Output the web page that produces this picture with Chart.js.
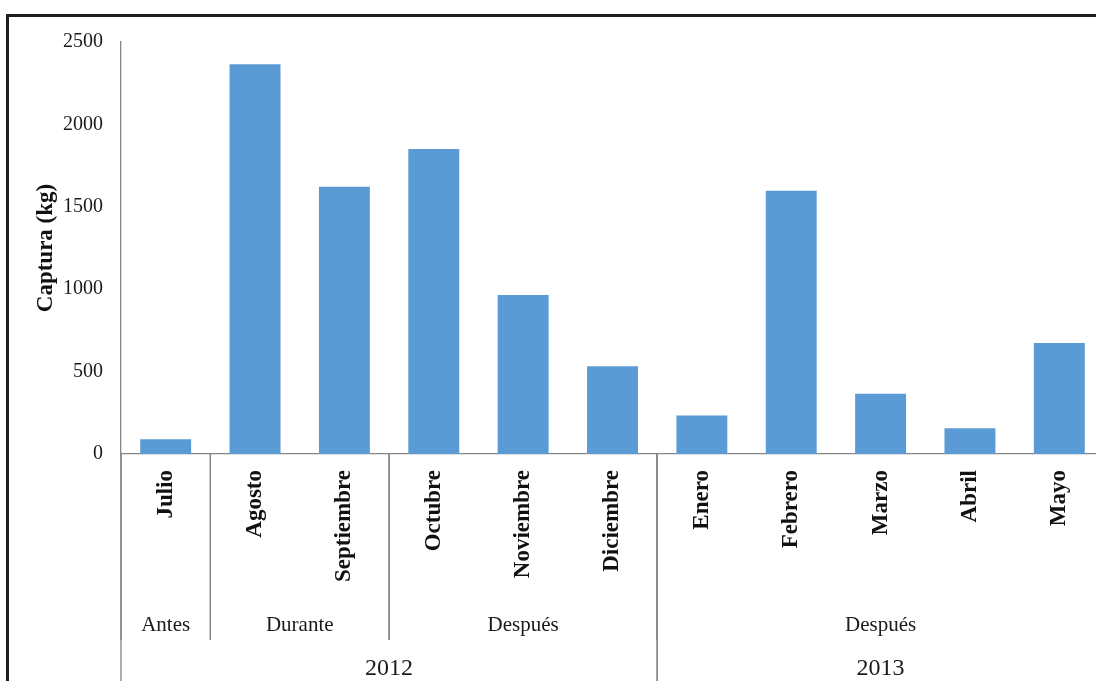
<!DOCTYPE html>
<html lang="es">
<head>
<meta charset="utf-8">
<title>Captura mensual (kg)</title>
<script src="https://cdn.jsdelivr.net/npm/chart.js@4/dist/chart.umd.min.js"></script>
<style>
  html, body { margin: 0; padding: 0; background: #fff; overflow: hidden; width: 1096px; height: 681px; }
  #wrap { position: relative; width: 1096px; height: 681px; overflow: hidden; }
  #frame { position: absolute; left: 6px; top: 14px; width: 1200px; height: 800px;
           border-top: 3px solid #1e1e1e; border-left: 3px solid #1e1e1e; box-sizing: border-box; }
  canvas { position: absolute; left: 0; top: 0; }
</style>
</head>
<body>
<div id="wrap">
  <div id="frame"></div>
  <canvas id="chart" width="1104" height="681"></canvas>
</div>
<script>
// Meses y captura (kg)
const meses = ['Julio', 'Agosto', 'Septiembre', 'Octubre', 'Noviembre', 'Diciembre',
               'Enero', 'Febrero', 'Marzo', 'Abril', 'Mayo'];
const captura = [90, 2365, 1622, 1851, 965, 532, 234, 1598, 365, 157, 674];

// Periodos respecto al evento y número de meses de cada uno
const periodos = ['Antes', 'Durante', 'Después', 'Después'];
const mesesPorPeriodo = [1, 2, 3, 5];

// Años y número de meses de cada uno
const anios = ['2012', '2013'];
const mesesPorAnio = [6, 5];

// Marcas del eje Y
const ejeYMin = 0, ejeYMax = 2500, ejeYPaso = 500;

const serif = "'Liberation Serif', 'Times New Roman', serif";
const gris = '#868686';

// Filas de agrupación bajo el eje X: periodos y años, con sus separadores
const filasAgrupadas = {
  id: 'filasAgrupadas',
  afterDraw(chart, args, opts) {
    const { ctx, scales: { x } } = chart;
    const borde = i => x.getPixelForValue(i - 0.5);
    const y0 = x.top;

    ctx.save();
    ctx.strokeStyle = gris;
    ctx.lineWidth = 1.3;
    ctx.fillStyle = '#1a1a1a';
    ctx.textAlign = 'center';
    ctx.textBaseline = 'middle';

    // Separadores de periodos
    let i = 0;
    ctx.font = `21px ${serif}`;
    periodos.forEach((p, k) => {
      const a = i, b = i + mesesPorPeriodo[k];
      ctx.beginPath();
      ctx.moveTo(borde(a), y0); ctx.lineTo(borde(a), opts.finPeriodo);
      ctx.moveTo(borde(b), y0); ctx.lineTo(borde(b), opts.finPeriodo);
      ctx.stroke();
      ctx.fillText(p, (borde(a) + borde(b)) / 2, opts.yPeriodo);
      i = b;
    });

    // Separadores de años
    i = 0;
    ctx.font = `24px ${serif}`;
    anios.forEach((an, k) => {
      const a = i, b = i + mesesPorAnio[k];
      ctx.beginPath();
      ctx.moveTo(borde(a), y0); ctx.lineTo(borde(a), chart.height);
      ctx.moveTo(borde(b), y0); ctx.lineTo(borde(b), chart.height);
      ctx.stroke();
      ctx.fillText(an, (borde(a) + borde(b)) / 2, opts.yAnio);
      i = b;
    });
    ctx.restore();
  }
};

new Chart(document.getElementById('chart'), {
  type: 'bar',
  data: {
    labels: meses,
    datasets: [{
      label: 'Captura (kg)',
      data: captura,
      backgroundColor: '#5b9bd5',
      borderWidth: 0,
      categoryPercentage: 1,
      barPercentage: 0.57
    }]
  },
  options: {
    responsive: false,
    devicePixelRatio: 1,
    animation: false,
    layout: { padding: { top: 42, left: 0, right: 0, bottom: 0 } },
    plugins: {
      legend: { display: false },
      tooltip: { enabled: false },
      filasAgrupadas: { yPeriodo: 625, finPeriodo: 640, yAnio: 669 }
    },
    scales: {
      x: {
        grid: { display: false, drawTicks: false },
        border: { display: true, color: gris, width: 1.3 },
        ticks: {
          autoSkip: false,
          minRotation: 90,
          maxRotation: 90,
          padding: 16,
          color: '#111',
          font: { family: serif, size: 23, weight: 'bold' }
        },
        afterFit(scale) {
          scale.height = 227;
          scale.paddingLeft = 0;
          scale.paddingRight = 0;
        }
      },
      y: {
        min: ejeYMin,
        max: ejeYMax,
        grid: { display: false, drawTicks: false },
        border: { display: true, color: gris, width: 1.3 },
        ticks: {
          stepSize: ejeYPaso,
          padding: 18,
          color: '#1a1a1a',
          font: { family: serif, size: 20 },
          callback: v => String(v)
        },
        title: {
          display: true,
          text: 'Captura (kg)',
          color: '#111',
          padding: { top: 32, bottom: 0 },
          font: { family: serif, size: 23, weight: 'bold' }
        },
        afterFit(scale) {
          scale.width = 121;
        }
      }
    }
  },
  plugins: [filasAgrupadas]
});
</script>
</body>
</html>
